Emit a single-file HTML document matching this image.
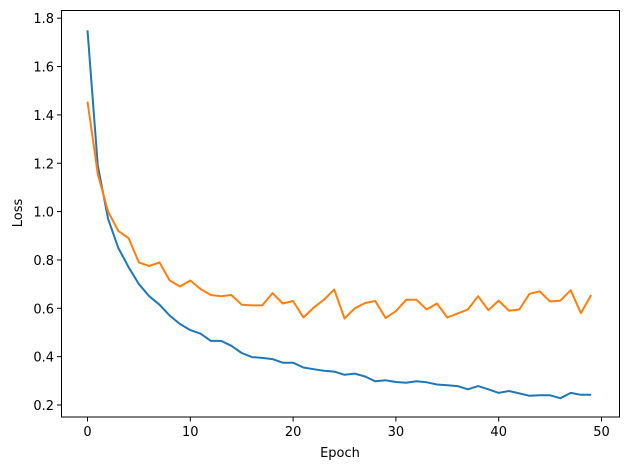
<!DOCTYPE html>
<html><head><style>
body{margin:0;background:#fff;}
svg text{font-family:"DejaVu Sans","Liberation Sans",sans-serif;font-size:13px;fill:#000;}
</style></head><body>
<svg id="s" width="630" height="470" xmlns="http://www.w3.org/2000/svg">
<rect x="0" y="0" width="630" height="470" fill="#fff"/>
<g id="ticks"></g>
<polyline id="b" fill="none" stroke="#1f77b4" stroke-width="2" stroke-linejoin="round"/>
<polyline id="o" fill="none" stroke="#ff7f0e" stroke-width="2" stroke-linejoin="round"/>
<rect x="61.5" y="10.5" width="558" height="406.5" fill="none" stroke="#000" stroke-width="1"/>
<text x="340" y="457" text-anchor="middle">Epoch</text>
<text transform="translate(22,213) rotate(-90)" text-anchor="middle">Loss</text>
</svg>
<script>
var X=function(v){return 87.5+v*10.28;},Y=function(v){return 405-(v-0.2)/0.2*48.35;};
var B=[1.75,1.19,0.97,0.85,0.77,0.70,0.65,0.615,0.57,0.535,0.51,0.495,0.465,0.465,0.445,0.415,0.398,0.395,0.39,0.375,0.375,0.355,0.348,0.342,0.338,0.325,0.33,0.318,0.298,0.302,0.295,0.292,0.298,0.294,0.285,0.282,0.278,0.265,0.278,0.265,0.25,0.258,0.248,0.238,0.24,0.24,0.228,0.25,0.242,0.242];
var O=[1.455,1.155,1.0,0.92,0.89,0.79,0.775,0.79,0.715,0.69,0.715,0.68,0.655,0.65,0.655,0.615,0.612,0.612,0.663,0.62,0.63,0.562,0.603,0.635,0.678,0.558,0.6,0.622,0.63,0.56,0.588,0.635,0.635,0.595,0.62,0.562,0.578,0.595,0.65,0.592,0.632,0.59,0.595,0.66,0.67,0.628,0.632,0.675,0.58,0.655];
function pts(a){return a.map(function(v,i){return X(i).toFixed(1)+","+Y(v).toFixed(1)}).join(" ");}
document.getElementById("b").setAttribute("points",pts(B));
document.getElementById("o").setAttribute("points",pts(O));
var g="";
for(var i=0;i<=50;i+=10){var x=X(i);g+='<line x1="'+x+'" y1="417" x2="'+x+'" y2="421.5" stroke="#000"/><text x="'+x+'" y="436" text-anchor="middle">'+i+'</text>';}
for(var k=1;k<=9;k++){var v=k*0.2,y=Y(v);g+='<line x1="57" y1="'+y+'" x2="61.5" y2="'+y+'" stroke="#000"/><text x="54" y="'+(y+5)+'" text-anchor="end">'+v.toFixed(1)+'</text>';}
document.getElementById("ticks").innerHTML=g;
</script>
</body></html>
